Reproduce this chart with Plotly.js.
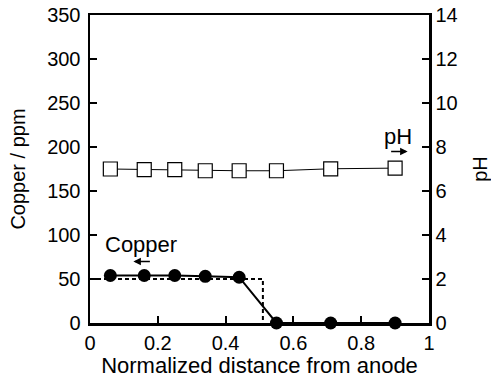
<!DOCTYPE html>
<html>
<head>
<meta charset="utf-8">
<script src="https://cdn.plot.ly/plotly-3.0.1.min.js"></script>
<style>html,body{margin:0;padding:0;background:#fff;}#chart{width:491px;height:386px;}</style>
</head>
<body>
<div id="chart"></div>
<script>
const distance = [0.06, 0.16, 0.25, 0.34, 0.44, 0.55, 0.71, 0.90];
const copper = [54, 54, 54, 53, 52, 0, 0, 0];
const pH = [7.0, 6.97, 6.97, 6.92, 6.92, 6.92, 7.01, 7.04];
const initialX = [0.0, 0.51, 0.51];
const initialCopper = [50, 50, 0];
const xTicks = [0, 0.2, 0.4, 0.6, 0.8, 1];
const yTicks = [0, 50, 100, 150, 200, 250, 300, 350];
const y2Ticks = [0, 2, 4, 6, 8, 10, 12, 14];

const fam = 'Arial, "Liberation Sans", sans-serif';
const font = {family: fam, size: 20, color: '#000'};
const xTitleFont = {family: fam, size: 22, color: '#000'};
const noteFont = {family: fam, size: 22, color: '#000'};

const traces = [
  {x: initialX, y: initialCopper, mode: 'lines', line: {color: '#000', width: 2, dash: '4px,3px'}, cliponaxis: false, hoverinfo: 'skip'},
  {x: distance, y: copper, mode: 'lines+markers', line: {color: '#000', width: 2},
   marker: {symbol: 'circle', size: 13, color: '#000'}, cliponaxis: false},
  {x: distance, y: pH, yaxis: 'y2', mode: 'lines+markers', line: {color: '#000', width: 1},
   marker: {symbol: 'square', size: 14, color: '#fff', line: {color: '#000', width: 1.2}}, cliponaxis: false}
];

const axisCommon = {showgrid: false, zeroline: false, showline: true, linecolor: '#000', linewidth: 2.5,
  ticks: 'inside', ticklen: 7, tickwidth: 2, tickcolor: '#000', tickfont: font};

const layout = {
  width: 491, height: 386,
  margin: {l: 90, r: 62, t: 15, b: 63},
  paper_bgcolor: '#fff', plot_bgcolor: '#fff',
  showlegend: false,
  font: font,
  xaxis: Object.assign({}, axisCommon, {range: [0, 1], tickvals: xTicks, ticktext: xTicks.map(String), mirror: true,
    title: {text: 'Normalized distance from anode', font: xTitleFont, standoff: 5}}),
  yaxis: Object.assign({}, axisCommon, {range: [0, 350], tickvals: yTicks, ticktext: yTicks.map(String),
    ticklabelstandoff: 3,
    title: {text: 'Copper / ppm', font: font, standoff: 16}}),
  yaxis2: Object.assign({}, axisCommon, {overlaying: 'y', side: 'right', range: [0, 14], tickvals: y2Ticks, ticktext: y2Ticks.map(String),
    title: {text: 'pH', font: font, standoff: 20}}),
  annotations: [
    {xref: 'x', yref: 'y', x: 0.15, y: 89, text: 'Copper', showarrow: false, font: noteFont},
    {xref: 'x', yref: 'y', x: 0.128, y: 70, ax: 18, ay: 0, text: '', showarrow: true, arrowhead: 2, arrowsize: 1, arrowwidth: 1.5, arrowcolor: '#000'},
    {xref: 'x', yref: 'y', x: 0.909, y: 212, text: 'pH', showarrow: false, font: noteFont},
    {xref: 'x', yref: 'y', x: 0.937, y: 195, ax: -18, ay: 0, text: '', showarrow: true, arrowhead: 2, arrowsize: 1, arrowwidth: 1.5, arrowcolor: '#000'}
  ]
};

Plotly.newPlot('chart', traces, layout, {displayModeBar: false, staticPlot: true});
</script>
</body>
</html>
